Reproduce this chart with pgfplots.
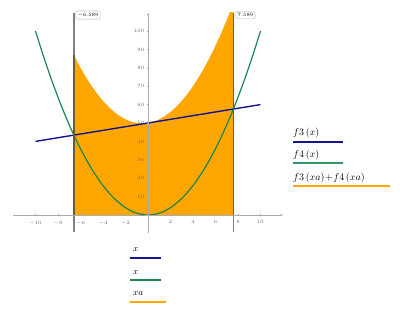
\documentclass[border=0pt]{standalone}
\usepackage{pgfplots}
\pgfplotsset{compat=1.18}
\usetikzlibrary{arrows.meta}
\definecolor{cblue}{RGB}{20,20,140}
\definecolor{cgreen}{RGB}{25,135,80}
\definecolor{cgreenl}{RGB}{50,150,100}
\definecolor{corange}{RGB}{255,167,0}
\definecolor{cgrid}{RGB}{170,170,170}
\definecolor{cmark}{RGB}{110,90,50}
\begin{document}
\begin{tikzpicture}
\path[use as bounding box] (0,0) rectangle (400bp,311bp);
% right legend
\fill[cblue] (293bp,168bp) rectangle (343bp,170bp);
\fill[cgreenl] (293bp,147bp) rectangle (343bp,149bp);
\fill[corange] (293bp,124bp) rectangle (390bp,126bp);
% bottom legend
\fill[cblue] (130bp,52bp) rectangle (161bp,54bp);
\fill[cgreen] (130bp,30bp) rectangle (161bp,32bp);
\fill[corange] (130bp,8bp) rectangle (166bp,10bp);
\begin{axis}[
  at={(13bp,77.6bp)}, anchor=south west,
  scale only axis, width=270bp, height=220.8bp,
  xmin=-12, xmax=12, ymin=-10, ymax=110,
  axis lines=middle, axis on top,
  axis line style={cgrid, line width=0.6pt, -{Stealth[length=3pt]}},
  xtick={-10,-8,...,10}, ytick={10,20,...,100},
  extra y ticks={0}, extra y tick style={tick style={draw=none}},
  tick style={cgrid, line width=0.4pt},
  major tick length=2.5pt,
  tick label style={font=\fontsize{5}{6}\selectfont, text=black!60},
  xticklabel style={yshift=-1pt},
  yticklabel style={xshift=1pt},
  clip=true,
]
% filled area f3(xa)+f4(xa)
\addplot[fill=corange, draw=none] coordinates {
(-6.589,0) (-6.589,86.826) (-6.5,85.75) (-6,80) (-5.5,74.75) (-5,70) (-4.5,65.75)
(-4,62) (-3.5,58.75) (-3,56) (-2.5,53.75) (-2,52) (-1.5,50.75) (-1,50) (-0.5,49.75)
(0,50) (0.5,50.75) (1,52) (1.5,53.75) (2,56) (2.5,58.75) (3,62) (3.5,65.75) (4,70)
(4.5,74.75) (5,80) (5.5,85.75) (6,92) (6.5,98.75) (7,106) (7.5,113.75) (7.589,115.182)
(7.589,0)} -- cycle;
% f3(x)
\addplot[cblue, line width=1.4pt] coordinates {(-10,40) (10,60)};
% f4(x)
\addplot[cgreen, line width=1.2pt, smooth] coordinates {
(-10,100) (-9.5,90.25) (-9,81) (-8.5,72.25) (-8,64) (-7.5,56.25) (-7,49) (-6.5,42.25)
(-6,36) (-5.5,30.25) (-5,25) (-4.5,20.25) (-4,16) (-3.5,12.25) (-3,9) (-2.5,6.25)
(-2,4) (-1.5,2.25) (-1,1) (-0.5,0.25) (0,0) (0.5,0.25) (1,1) (1.5,2.25) (2,4)
(2.5,6.25) (3,9) (3.5,12.25) (4,16) (4.5,20.25) (5,25) (5.5,30.25) (6,36) (6.5,42.25)
(7,49) (7.5,56.25) (8,64) (8.5,72.25) (9,81) (9.5,90.25) (10,100)};
% markers
\addplot[cmark, line width=1.6pt] coordinates {(-6.589,0) (-6.589,86.8)};
\addplot[black!50, line width=1.6pt] coordinates {(-6.589,86.8) (-6.589,110)};
\addplot[black!50, line width=1.6pt] coordinates {(-6.589,-9.5) (-6.589,0)};
\addplot[cmark, line width=1.6pt] coordinates {(7.589,0) (7.589,110)};
\addplot[black!50, line width=1.6pt] coordinates {(7.589,-9.5) (7.589,0)};
\end{axis}
% marker labels
\node[draw=black!30, rounded corners=2pt, inner xsep=1.8pt, inner ysep=2pt, font=\fontsize{5}{6}\selectfont, fill=white] at (88bp,296bp) {$-$6.589};
\node[draw=black!30, rounded corners=2pt, inner xsep=1.8pt, inner ysep=2pt, font=\fontsize{5}{6}\selectfont, fill=white] at (245.5bp,296bp) {7.589};
% legend text
\node[anchor=west, font=\fontsize{10}{12}\selectfont, inner sep=0pt] at (293bp,178bp) {$f3\left(x\right)$};
\node[anchor=west, font=\fontsize{10}{12}\selectfont, inner sep=0pt] at (293bp,156bp) {$f4\left(x\right)$};
\node[anchor=west, font=\fontsize{10}{12}\selectfont, inner sep=0pt] at (293bp,133bp) {$f3\left(xa\right)\!+\!f4\left(xa\right)$};
\node[anchor=west, font=\fontsize{9}{11}\selectfont, inner sep=0pt] at (133bp,61bp) {$x$};
\node[anchor=west, font=\fontsize{9}{11}\selectfont, inner sep=0pt] at (133bp,38bp) {$x$};
\node[anchor=west, font=\fontsize{9}{11}\selectfont, inner sep=0pt] at (133bp,17bp) {$xa$};
\end{tikzpicture}
\end{document}
